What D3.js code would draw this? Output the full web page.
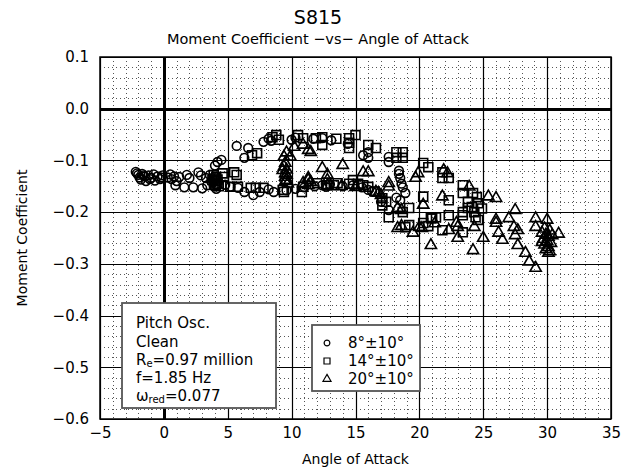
<!DOCTYPE html>
<html><head><meta charset="utf-8">
<script src="https://cdn.jsdelivr.net/npm/d3@7"></script>
<style>
html,body{margin:0;padding:0;background:#fff;}
text{font-family:"DejaVu Sans",sans-serif;fill:#000;}
</style></head>
<body><svg id="c" width="626" height="470"></svg>
<script>
// ---- data ----
const xTicks = [-5,0,5,10,15,20,25,30,35];
const yTicks = [0.1,0.0,-0.1,-0.2,-0.3,-0.4,-0.5,-0.6];
const seriesNames = ["8°±10°","14°±10°","20°±10°"];
const infoLines = ["Pitch Osc.","Clean","Re=0.97 million","f=1.85 Hz","ωred=0.077"];

const circles8 = [
[-2.2,-0.122],[-2.0,-0.128],[-1.9,-0.133],[-1.7,-0.126],[-1.5,-0.131],[-1.8,-0.137],[-1.2,-0.129],[-1.0,-0.134],
[-0.8,-0.127],[-0.5,-0.131],[-0.3,-0.136],[-0.1,-0.129],[0.3,-0.133],[0.5,-0.127],[0.8,-0.131],[1.0,-0.140],
[-1.4,-0.140],[-0.7,-0.139],[1.2,-0.132],[1.8,-0.128],[2.0,-0.134],[2.7,-0.123],[2.9,-0.129],[3.3,-0.134],[3.6,-0.128],
[-2.1,-0.125],[-1.6,-0.129],[-1.1,-0.136],[-0.2,-0.133],[0.6,-0.136],
[0.9,-0.148],[1.6,-0.152],[2.3,-0.152],[3.0,-0.154],[3.4,-0.148],[4.1,-0.155],
[3.8,-0.137],[3.9,-0.142],[4.0,-0.131],[4.1,-0.146],[3.7,-0.140],[3.9,-0.150],
[4.2,-0.103],[4.5,-0.099],[4.0,-0.110],[5.7,-0.072],[6.3,-0.095],[6.6,-0.076],[7.8,-0.064],[8.2,-0.058],[8.4,-0.062],
[10.0,-0.060],[10.3,-0.056],[11.7,-0.058],[12.4,-0.057],[13.1,-0.061],[14.4,-0.068],[15.6,-0.090],[16.0,-0.084],
[16.0,-0.095],[17.6,-0.093],[17.6,-0.103],[18.4,-0.120],[18.4,-0.126],[18.5,-0.134],[18.6,-0.145],[18.7,-0.152],
[18.2,-0.172],[18.5,-0.177],[18.9,-0.163],[17.6,-0.196],[17.0,-0.180],[16.0,-0.157],[16.3,-0.160],[15.5,-0.152],
[14.8,-0.148],[14.0,-0.150],[13.0,-0.146],[12.4,-0.148],[12.7,-0.151],[11.8,-0.150],[11.0,-0.152],[10.3,-0.155],
[9.6,-0.158],[8.6,-0.161],[8.2,-0.156],[7.5,-0.161],[7.0,-0.167],[6.3,-0.161],[5.8,-0.153],[5.2,-0.151],[4.8,-0.147]
];
const squares14 = [
[3.9,-0.128],[4.0,-0.135],[4.1,-0.140],[4.2,-0.145],[4.1,-0.132],[4.3,-0.150],[4.0,-0.147],[3.8,-0.138],[4.2,-0.137],
[4.6,-0.125],[4.7,-0.132],[5.5,-0.123],[5.7,-0.128],[6.9,-0.090],[7.3,-0.086],[8.5,-0.055],[8.8,-0.051],[9.0,-0.060],
[10.5,-0.051],[10.9,-0.057],[11.9,-0.057],[12.4,-0.055],[12.4,-0.070],[13.5,-0.058],[14.5,-0.057],[15.0,-0.051],
[14.5,-0.066],[14.5,-0.076],[16.0,-0.070],[16.6,-0.076],[18.2,-0.084],[18.7,-0.084],[18.2,-0.095],[18.7,-0.095],
[20.3,-0.105],[20.7,-0.113],[21.8,-0.123],[22.3,-0.134],[21.8,-0.134],[23.4,-0.148],[23.4,-0.163],[23.8,-0.180],
[24.2,-0.163],[24.5,-0.171],[24.6,-0.183],[24.9,-0.193],[24.6,-0.215],[24.4,-0.210],[24.3,-0.200],[23.8,-0.192],
[23.4,-0.239],[23.4,-0.200],[23.4,-0.206],[22.3,-0.177],[22.3,-0.206],[21.8,-0.235],[21.0,-0.212],[20.9,-0.212],
[21.3,-0.210],[20.3,-0.170],[20.3,-0.221],[20.7,-0.227],[19.2,-0.225],[18.9,-0.229],[19.2,-0.192],[18.7,-0.200],
[17.6,-0.210],[17.1,-0.173],[17.1,-0.187],[16.0,-0.151],[15.6,-0.148],[15.2,-0.145],[14.8,-0.138],[14.5,-0.145],
[13.6,-0.144],[13.3,-0.148],[12.8,-0.148],[12.0,-0.144],[10.9,-0.151],[10.8,-0.161],[9.4,-0.161],[9.3,-0.157],
[7.8,-0.153],[7.2,-0.153],[6.8,-0.153],[5.8,-0.151],[5.2,-0.151],[16.5,-0.160],[17.4,-0.180],[24.1,-0.190]
];
const triangles20 = [
[9.3,-0.119],[9.4,-0.112],[9.5,-0.125],[9.5,-0.132],[9.6,-0.138],[9.7,-0.145],[9.5,-0.105],[9.6,-0.128],
[9.4,-0.093],[9.6,-0.085],[9.9,-0.093],[10.2,-0.074],[10.9,-0.070],[11.3,-0.080],[11.5,-0.084],[12.4,-0.115],
[14.0,-0.109],[15.6,-0.123],[16.0,-0.123],[17.6,-0.144],[19.7,-0.134],[19.9,-0.125],[21.9,-0.119],[22.2,-0.125],
[23.9,-0.151],[25.4,-0.170],[26.0,-0.173],[27.5,-0.196],[27.0,-0.212],[29.1,-0.212],[30.0,-0.215],[29.1,-0.229],
[29.8,-0.232],[30.2,-0.236],[30.4,-0.245],[29.6,-0.240],[29.9,-0.244],[30.1,-0.248],[29.7,-0.252],[30.0,-0.256],
[30.3,-0.260],[29.8,-0.263],[30.1,-0.268],[29.9,-0.272],[30.2,-0.276],[29.6,-0.258],[30.9,-0.242],[30.1,-0.279],
[29.1,-0.308],[28.6,-0.296],[28.3,-0.279],[27.7,-0.264],[27.5,-0.245],[27.7,-0.235],[27.4,-0.229],[26.5,-0.254],
[26.2,-0.240],[26.0,-0.221],[26.0,-0.215],[25.0,-0.250],[24.2,-0.274],[24.3,-0.229],[23.0,-0.250],[22.9,-0.221],
[23.0,-0.229],[22.3,-0.235],[21.8,-0.170],[20.9,-0.264],[20.3,-0.186],[20.0,-0.229],[20.2,-0.231],[18.3,-0.192],
[18.6,-0.196],[18.3,-0.231],[18.6,-0.227],[17.0,-0.167],[16.8,-0.163],[16.6,-0.161],[17.6,-0.151],[12.8,-0.128],
[12.8,-0.138],[12.8,-0.148],[11.3,-0.138],[11.3,-0.148],[10.9,-0.144],[11.5,-0.142],[11.3,-0.134],
[9.5,-0.140],[9.6,-0.118],[13.9,-0.150],[15.0,-0.152],[19.5,-0.240],[21.2,-0.222]
];

// ---- layout ----
const FONT = "DejaVu Sans, sans-serif";
const svg = d3.select("#c");
const L=100, R=611, T=57, B=419;
const x = d3.scaleLinear().domain([-5,35]).range([L,R]);
const y = d3.scaleLinear().domain([-0.6,0.1]).range([B,T]);
const minus = v => (v<0?"\u2212":"") + Math.abs(v).toFixed(1);

// minor grid
const g = svg.append("g");
g.selectAll(".mx").data(d3.range(-5,36,1).filter(v=>v%5!==0)).enter().append("line")
 .attr("x1",d=>Math.round(x(d))+0.5).attr("x2",d=>Math.round(x(d))+0.5).attr("y1",T).attr("y2",B)
 .attr("stroke","#555").attr("stroke-width",1).attr("stroke-dasharray","1,3");
g.selectAll(".my").data(d3.range(-30,6,1).filter(v=>v%5!==0).map(v=>v*0.02)).enter().append("line")
 .attr("y1",d=>Math.round(y(d))+0.5).attr("y2",d=>Math.round(y(d))+0.5).attr("x1",L).attr("x2",R)
 .attr("stroke","#555").attr("stroke-width",1).attr("stroke-dasharray","1,3");
// major grid
g.selectAll(".Mx").data(xTicks).enter().append("line")
 .attr("x1",d=>Math.round(x(d))+0.5).attr("x2",d=>Math.round(x(d))+0.5).attr("y1",T).attr("y2",B)
 .attr("stroke","#000").attr("stroke-width",d=>d===0?3:1.2);
g.selectAll(".My").data(yTicks).enter().append("line")
 .attr("y1",d=>Math.round(y(d))+0.5).attr("y2",d=>Math.round(y(d))+0.5).attr("x1",L).attr("x2",R)
 .attr("stroke","#000").attr("stroke-width",d=>d===0?3:1.2);
// frame
svg.append("rect").attr("x",L).attr("y",T).attr("width",R-L).attr("height",B-T)
 .attr("fill","none").attr("stroke","#000").attr("stroke-width",1.5);

// axes labels via d3 axes (no tick lines)
const xa = svg.append("g").attr("transform",`translate(0,${B})`)
 .call(d3.axisBottom(x).tickValues(xTicks).tickSize(0).tickPadding(8).tickFormat(d=>d<0?"\u2212"+Math.abs(d):d));
xa.select(".domain").remove();
xa.selectAll("text").attr("font-size",15).attr("font-family",FONT);
const ya = svg.append("g").attr("transform",`translate(${L},0)`)
 .call(d3.axisLeft(y).tickValues(yTicks).tickSize(0).tickPadding(11).tickFormat(minus));
ya.select(".domain").remove();
ya.selectAll("text").attr("font-size",15).attr("font-family",FONT);

// titles
svg.append("text").attr("x",318).attr("y",24).attr("text-anchor","middle").attr("font-size",19).text("S815");
svg.append("text").attr("x",318).attr("y",44).attr("text-anchor","middle").attr("font-size",14.5).text("Moment Coefficient \u2212vs\u2212 Angle of Attack");
svg.append("text").attr("x",(L+R)/2).attr("y",464).attr("text-anchor","middle").attr("font-size",14).text("Angle of Attack");
svg.append("text").attr("transform",`translate(27,${(T+B)/2}) rotate(-90)`).attr("text-anchor","middle").attr("font-size",14).text("Moment Coefficient");

// markers
const sym = [d3.symbolCircle,d3.symbolSquare,d3.symbolTriangle];
const sizes = [60,80,55];
const datasets = [circles8,squares14,triangles20];
datasets.forEach((ds,i)=>{
  svg.append("g").selectAll("path").data(ds).enter().append("path")
   .attr("d",d3.symbol().type(sym[i]).size(sizes[i]))
   .attr("transform",d=>`translate(${x(d[0])},${y(d[1])})`)
   .attr("fill","none").attr("stroke","#000").attr("stroke-width",1.6);
});

// info box
svg.append("rect").attr("x",122).attr("y",303).attr("width",154).attr("height",105)
 .attr("fill","#fff").attr("stroke","#555").attr("stroke-width",1.8);
const info = svg.append("g").attr("font-size",15);
const ix=136, iy=[328,347,365,383,401];
info.append("text").attr("x",ix).attr("y",iy[0]).text(infoLines[0]);
info.append("text").attr("x",ix).attr("y",iy[1]).text(infoLines[1]);
const t3 = info.append("text").attr("x",ix).attr("y",iy[2]);
t3.append("tspan").text("R");
t3.append("tspan").attr("font-size",10).attr("dy",2).text("e");
t3.append("tspan").attr("dy",-2).text("=0.97 million");
info.append("text").attr("x",ix).attr("y",iy[3]).text(infoLines[3]);
const t5 = info.append("text").attr("x",ix).attr("y",iy[4]);
t5.append("tspan").text("\u03c9");
t5.append("tspan").attr("font-size",10).attr("dy",2).text("red");
t5.append("tspan").attr("dy",-2).text("=0.077");

// legend
svg.append("rect").attr("x",312).attr("y",325).attr("width",108).attr("height",66)
 .attr("fill","#fff").attr("stroke","#555").attr("stroke-width",1.8);
const ly=[343,361,379];
const lsizes=[26,36,28];
seriesNames.forEach((n,i)=>{
  svg.append("path").attr("d",d3.symbol().type(sym[i]).size(lsizes[i]))
   .attr("transform",`translate(327,${ly[i]})`).attr("fill","none").attr("stroke","#000").attr("stroke-width",1.2);
  svg.append("text").attr("x",348).attr("y",ly[i]+5).attr("font-size",15).text(n);
});
</script></body></html>
